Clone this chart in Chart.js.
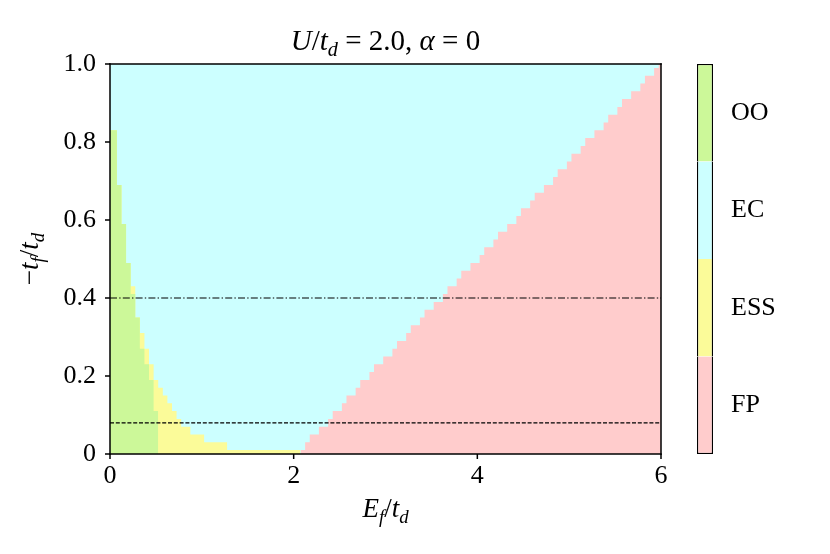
<!DOCTYPE html>
<html><head><meta charset="utf-8">
<script src="https://cdn.jsdelivr.net/npm/chart.js@4.4.1/dist/chart.umd.min.js"></script>
<style>
html,body{margin:0;padding:0;background:#fff;}
#wrap{position:relative;width:830px;height:554px;}
#main{position:absolute;left:0;top:0;}
#cbar{position:absolute;left:690px;top:0;}
</style></head><body>
<div id="wrap">
<canvas id="main" width="830" height="554"></canvas>
<canvas id="cbar" width="140" height="554"></canvas>
</div>
<script>
// ---- data (grid rows of -t_f/t_d) ----
const rowY = [0.00,0.02,0.04,0.06,0.08,0.10,0.12,0.14,0.16,0.18,0.20,0.22,0.24,0.26,0.28,0.30,0.32,0.34,0.36,0.38,0.40,0.42,0.44,0.46,0.48,0.50,0.52,0.54,0.56,0.58,0.60,0.62,0.64,0.66,0.68,0.70,0.72,0.74,0.76,0.78,0.80,0.82,0.84,0.86,0.88,0.90,0.92,0.94,0.96,0.98,1.00];
// E_f/t_d where the OO phase ends in each row
const ooEnd = [0.525,0.525,0.525,0.525,0.525,0.525,0.475,0.475,0.475,0.475,0.425,0.425,0.375,0.375,0.325,0.325,0.325,0.325,0.275,0.275,0.275,0.225,0.225,0.225,0.225,0.175,0.175,0.175,0.175,0.175,0.125,0.125,0.125,0.125,0.125,0.075,0.075,0.075,0.075,0.075,0.075,0.075,0,0,0,0,0,0,0,0,0];
// E_f/t_d where the ESS phase ends in each row (equals ooEnd where no ESS)
const essEnd = [2.075,1.275,1.025,0.875,0.775,0.725,0.675,0.625,0.575,0.525,0.475,0.475,0.425,0.425,0.375,0.375,0.325,0.325,0.275,0.275,0.275,0.275,0.225,0.225,0.225,0.175,0.175,0.175,0.175,0.175,0.125,0.125,0.125,0.125,0.125,0.075,0.075,0.075,0.075,0.075,0.075,0.075,0,0,0,0,0,0,0,0,0];
// E_f/t_d where the FP phase starts in each row
const fpStart = [2.075,2.125,2.175,2.275,2.375,2.425,2.525,2.575,2.675,2.725,2.825,2.875,2.975,3.075,3.125,3.225,3.275,3.375,3.425,3.525,3.625,3.675,3.775,3.825,3.925,4.025,4.075,4.175,4.225,4.325,4.425,4.475,4.575,4.625,4.725,4.825,4.875,4.975,5.025,5.125,5.175,5.275,5.375,5.425,5.525,5.575,5.675,5.775,5.825,5.925,5.975];
const cutDashDot = 0.4;
const cutDashed = 0.08;
const xRange = [0, 6];
const yRange = [0, 1];
const xTicks = [0, 2, 4, 6];
const xTickLabels = ['0', '2', '4', '6'];
const yTicks = [0, 0.2, 0.4, 0.6, 0.8, 1.0];
const yTickLabels = ['0', '0.2', '0.4', '0.6', '0.8', '1.0'];
const phases = ['FP', 'ESS', 'EC', 'OO'];
const phaseColors = {OO: '#ccf899', EC: '#ccffff', ESS: '#fbfb99', FP: '#ffcccc'};

// ---- helpers ----
const FONT = '"Liberation Serif", "Times New Roman", serif';
Chart.defaults.font.family = FONT;
Chart.defaults.font.size = 26;
Chart.defaults.color = '#000';

function rowTop(j) {
  const n = rowY.length;
  if (j >= n - 1) return yRange[1];
  return (rowY[j] + rowY[j + 1]) / 2;
}
function leftStair(edges) {
  let J = -1;
  edges.forEach((e, j) => { if (e > 0) J = j; });
  const pts = [{x: xRange[0], y: rowTop(J)}];
  for (let j = J; j >= 0; j--) pts.push({x: edges[j], y: j > 0 ? rowTop(j - 1) : yRange[0]});
  return pts;
}
function rightStair(edges) {
  const pts = edges.map((x, j) => ({x: x, y: rowTop(j)}));
  pts.push({x: xRange[1], y: rowTop(edges.length - 1)});
  return pts;
}
function region(label, data) {
  return {label, data, fill: 'start', stepped: 'before', backgroundColor: phaseColors[label],
          borderColor: 'rgba(0,0,0,0)', borderWidth: 0, pointRadius: 0};
}
function hline(y, dash) {
  return {label: 'cut', data: [{x: xRange[0], y}, {x: xRange[1], y}], fill: false,
          borderColor: '#000', borderWidth: 1.2, borderDash: dash, pointRadius: 0};
}

const titleRuns = [{t:'U',i:1},{t:'/'},{t:'t',i:1},{t:'d',i:1,s:1},{t:' = 2.0, '},{t:'α',i:1},{t:' = 0'}];
const xTitleRuns = [{t:'E',i:1},{t:'f',i:1,s:1},{t:'/'},{t:'t',i:1},{t:'d',i:1,s:1}];
const yTitleRuns = [{t:'−'},{t:'t',i:1},{t:'f',i:1,s:1},{t:'/'},{t:'t',i:1},{t:'d',i:1,s:1}];

function runFont(r, size) {
  return (r.i ? 'italic ' : '') + (r.s ? size * 0.7 : size) + 'px ' + FONT;
}
function drawRuns(ctx, runs, cx, base, size) {
  ctx.save();
  ctx.fillStyle = '#000';
  ctx.textBaseline = 'alphabetic';
  ctx.textAlign = 'left';
  let total = 0;
  const w = runs.map(r => { ctx.font = runFont(r, size); const m = ctx.measureText(r.t).width; total += m; return m; });
  let x = cx - total / 2;
  runs.forEach((r, k) => {
    ctx.font = runFont(r, size);
    ctx.fillText(r.t, x, base + (r.s ? size * 0.22 : 0));
    x += w[k];
  });
  ctx.restore();
}
// frame and tick marks, placed with the chart's own scales
const frameAndTicks = {
  id: 'frameAndTicks',
  afterDraw(chart) {
    const {ctx, chartArea: a, scales} = chart;
    const w = 1.5, tl = 5;
    ctx.save();
    ctx.globalAlpha = 1;
    ctx.globalCompositeOperation = 'source-over';
    ctx.fillStyle = '#000';
    ctx.fillRect(a.left - w / 2, a.top - w / 2, a.right - a.left + w, w);
    ctx.fillRect(a.left - w / 2, a.bottom - w / 2, a.right - a.left + w, w);
    ctx.fillRect(a.left - w / 2, a.top - w / 2, w, a.bottom - a.top + w);
    ctx.fillRect(a.right - w / 2, a.top - w / 2, w, a.bottom - a.top + w);
    xTicks.forEach(v => { const px = scales.x.getPixelForValue(v); ctx.fillRect(px - w / 2, a.bottom, w, tl); });
    yTicks.forEach(v => { const py = scales.y.getPixelForValue(v); ctx.fillRect(a.left - tl, py - w / 2, tl, w); });
    ctx.restore();
  }
};
const mathLabels = {
  id: 'mathLabels',
  afterDraw(chart) {
    const {ctx, chartArea: a} = chart;
    const cx = (a.left + a.right) / 2;
    drawRuns(ctx, titleRuns, cx, a.top - 14, 29);
    drawRuns(ctx, xTitleRuns, cx, a.bottom + 63, 27);
    ctx.save();
    ctx.translate(38, (a.top + a.bottom) / 2);
    ctx.rotate(-Math.PI / 2);
    drawRuns(ctx, yTitleRuns, 0, 0, 27);
    ctx.restore();
  }
};

const NOBORDER = {display: true, color: 'rgba(0,0,0,0)', width: 1.3};
const TICKGRID = {display: true, drawOnChartArea: false, drawTicks: true, color: 'rgba(0,0,0,0)', lineWidth: 1.3,
                  tickLength: 5};

new Chart(document.getElementById('main'), {
  type: 'line',
  data: {
    datasets: [
      hline(cutDashDot, [7, 2.2, 1.4, 2.2]),
      hline(cutDashed, [4, 1.8]),
      region('OO', leftStair(ooEnd)),
      region('ESS', leftStair(essEnd)),
      region('FP', rightStair(fpStart)),
      region('EC', [{x: xRange[0], y: yRange[1]}, {x: xRange[1], y: yRange[1]}])
    ]
  },
  options: {
    responsive: false, animation: false, devicePixelRatio: 1,
    layout: {padding: {top: 64, right: 169, bottom: 0, left: 0}},
    plugins: {legend: {display: false}, tooltip: {enabled: false}, title: {display: false}},
    scales: {
      x: {
        type: 'linear', position: 'bottom', min: xRange[0], max: xRange[1],
        afterBuildTicks: s => { s.ticks = xTicks.map(v => ({value: v})); },
        ticks: {callback: v => xTickLabels[xTicks.indexOf(v)], padding: 2, maxRotation: 0, autoSkip: false},
        grid: TICKGRID, border: NOBORDER,
        afterFit: s => { s.height = 100; }
      },
      y: {
        type: 'linear', position: 'left', min: yRange[0], max: yRange[1],
        afterBuildTicks: s => { s.ticks = yTicks.map(v => ({value: v})); },
        ticks: {callback: v => yTickLabels[yTicks.indexOf(v)], padding: 9, autoSkip: false},
        grid: TICKGRID, border: NOBORDER,
        afterFit: s => { s.width = 110; }
      }
    }
  },
  plugins: [frameAndTicks, mathLabels]
});

// ---- colour bar ----
const last = phases.length - 1;
new Chart(document.getElementById('cbar'), {
  type: 'bar',
  data: {
    labels: [''],
    datasets: phases.map((p, i) => ({label: p, data: [1], backgroundColor: phaseColors[p],
      borderColor: '#000', borderSkipped: false, inflateAmount: 0,
      borderWidth: {left: 1.3, right: 1.3, top: i === last ? 1.3 : 0, bottom: i === 0 ? 1.3 : 0},
      barPercentage: 1, categoryPercentage: 1}))
  },
  options: {
    responsive: false, animation: false, devicePixelRatio: 1,
    layout: {padding: {top: 64, right: 0, bottom: 100, left: 7}},
    plugins: {legend: {display: false}, tooltip: {enabled: false}},
    scales: {
      x: {type: 'category', stacked: true, display: false},
      y: {type: 'linear', stacked: true, position: 'right', min: 0, max: phases.length,
          afterBuildTicks: s => { s.ticks = phases.map((p, i) => ({value: i + 0.5})); },
          ticks: {callback: v => phases[Math.floor(v)], padding: 18, autoSkip: false},
          grid: {display: false, drawTicks: false}, border: {display: false},
          afterFit: s => { s.width = 117; }}
    }
  }
});
</script>
</body></html>
